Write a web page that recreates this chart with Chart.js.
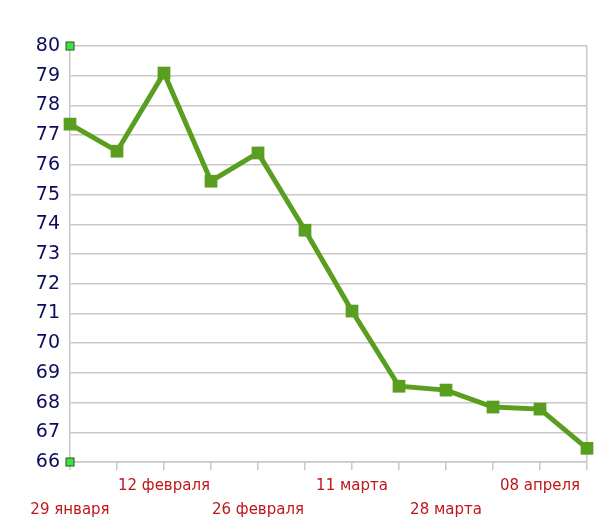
<!DOCTYPE html>
<html>
<head>
<meta charset="utf-8">
<script src="https://cdn.jsdelivr.net/npm/chart.js@4"></script>
<style>
  html, body { margin: 0; padding: 0; background: #fff; }
  #wrap { width: 608px; height: 528px; }
</style>
</head>
<body>
<div id="wrap"><canvas id="myChart" width="608" height="528"></canvas></div>
<script>
// dates of the observations (only every other one is labelled)
var dates = ['29 января', '05 февраля', '12 февраля', '19 февраля', '26 февраля', '04 марта',
             '11 марта', '18 марта', '28 марта', '01 апреля', '08 апреля', '15 апреля'];
var values = [77.37, 76.46, 79.09, 75.45, 76.40, 73.80, 71.08, 68.55, 68.42, 67.85, 67.78, 66.46];
var yMin = 66;
var yMax = 80;

var gridGray = '#c8c8c8';

// little green squares at the ends of the value axis
var axisEnds = {
    id: 'axisEnds',
    afterDraw: function (chart) {
        var ctx = chart.ctx;
        var y = chart.scales.y;
        var x0 = chart.chartArea.left;
        [y.max, y.min].forEach(function (v) {
            var py = y.getPixelForValue(v);
            ctx.save();
            ctx.fillStyle = '#44dd44';
            ctx.strokeStyle = '#1d5a1d';
            ctx.lineWidth = 1;
            ctx.fillRect(x0 - 4, py - 4, 8, 8);
            ctx.strokeRect(x0 - 4, py - 4, 8, 8);
            ctx.restore();
        });
    }
};

new Chart(document.getElementById('myChart'), {
    type: 'line',
    data: {
        labels: dates,
        datasets: [{
            data: values,
            borderColor: '#5a9e1f',
            backgroundColor: '#5a9e1f',
            borderWidth: 5,
            pointStyle: 'rect',
            pointRadius: 9,
            pointHoverRadius: 9,
            pointBorderWidth: 0,
            tension: 0,
            fill: false
        }]
    },
    options: {
        responsive: false,
        animation: false,
        layout: { padding: { top: 46, right: 21, left: 0, bottom: 0 } },
        plugins: { legend: { display: false }, tooltip: { enabled: false } },
        scales: {
            x: {
                offset: false,
                grid: {
                    offset: false,
                    color: function (c) { return c.index === dates.length - 1 ? gridGray : 'rgba(0,0,0,0)'; },
                    tickColor: gridGray,
                    tickLength: 8,
                    lineWidth: 1.5
                },
                border: { color: gridGray, width: 1.5 },
                ticks: {
                    autoSkip: false,
                    maxRotation: 0,
                    color: '#c0161a',
                    font: { family: 'DejaVu Sans', size: 15, lineHeight: 1.6 },
                    padding: 4,
                    callback: function (v, i) {
                        if (i % 2 === 1) return '';
                        return (i / 2) % 2 === 0 ? ['', dates[i]] : [dates[i], ''];
                    }
                },
                afterFit: function (s) { s.height = 66; }
            },
            y: {
                min: yMin,
                max: yMax,
                ticks: {
                    stepSize: 1,
                    color: '#0c0c5c',
                    font: { family: 'DejaVu Sans', size: 19 },
                    padding: 10
                },
                grid: { color: gridGray, lineWidth: 1.5, drawTicks: false },
                border: { color: gridGray, width: 1.5 },
                afterFit: function (s) { s.width = 70; }
            }
        }
    },
    plugins: [axisEnds]
});
</script>
</body>
</html>
